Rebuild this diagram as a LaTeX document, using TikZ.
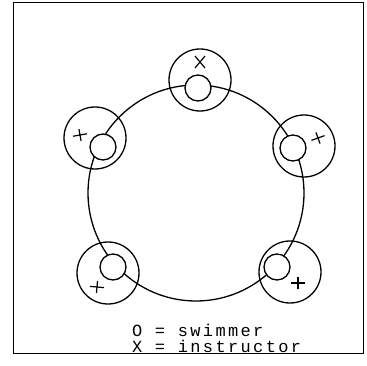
\documentclass[tikz,border=0pt]{standalone}
\usepackage{fontspec}
\newfontfamily\typew[LetterSpace=14]{Liberation Mono}
\begin{document}
\begin{tikzpicture}[x=1pt,y=-1pt,
  ln/.style={line width=1.3pt,black},
  ring/.style={ln,circle,draw,inner sep=0pt,minimum size=62pt},
  swimmer/.style={ln,circle,draw,fill=white,inner sep=0pt,minimum size=26pt},
  bigring/.style={ln,circle,draw,inner sep=0pt,minimum size=216pt},
  crossmark/.style={line width=1.2pt,black},
  legend/.style={font=\typew\fontsize{17}{17}\selectfont,anchor=base west,inner sep=0pt,text height=10pt,text depth=0pt}]
\useasboundingbox (0,0) rectangle (367,366);
% frame
\draw[line width=1pt] (13,3) -- (363,3) -- (363,353) -- (13,353) -- cycle;
% big circle
\node[bigring] (pool) at (196,193) {};
% instructor zones
\node[ring] (z1) at (200,80) {};
\node[ring] (z2) at (95,138) {};
\node[ring] (z3) at (304,146) {};
\node[ring] (z4) at (108,273) {};
\node[ring] (z5) at (290,272) {};
% swimmers
\node[swimmer] (s1) at (198,88) {};
\node[swimmer] (s2) at (103,147) {};
\node[swimmer] (s3) at (293,148) {};
\node[swimmer] (s4) at (113,267) {};
\node[swimmer] (s5) at (277,267) {};
% instructors
\draw[crossmark] (195,56) -- (205,68) (205,56) -- (195,68);
\draw[crossmark,shift={(80,135)},rotate=10] (-7,0) -- (7,0) (0,-6) -- (0,6);
\draw[crossmark,shift={(318,138)},rotate=20] (-7,0) -- (7,0) (0,-6) -- (0,6);
\draw[crossmark,shift={(97,287)},rotate=-5] (-7,0) -- (7,0) (0,-6) -- (0,6);
\draw[crossmark,shift={(298,283)}] (-7,0) -- (7,0) (0,-6) -- (0,6);
% legend
\node[legend] (l1) at (132,336) {O = swimmer};
\node[legend] (l2) at (132,352) {X = instructor};
\end{tikzpicture}
\end{document}
